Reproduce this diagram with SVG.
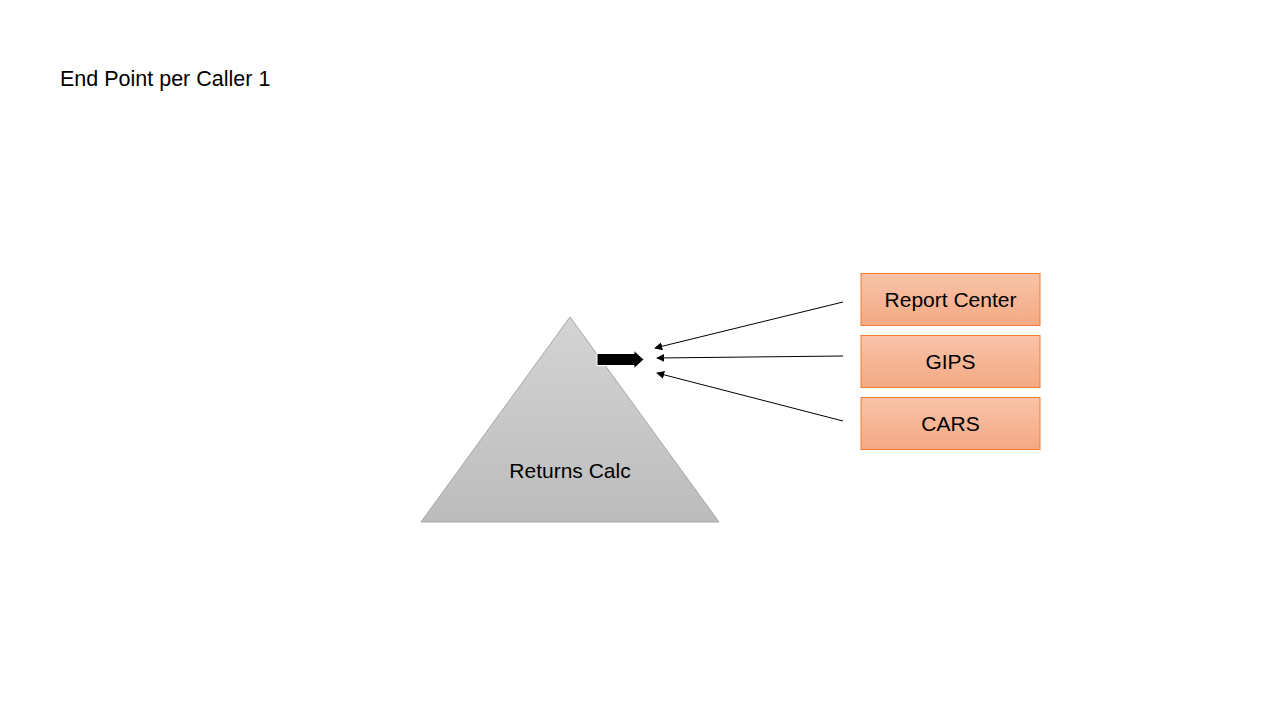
<svg xmlns="http://www.w3.org/2000/svg" width="1280" height="720" viewBox="0 0 1280 720">
<style>
  text { font-family: "Liberation Sans", Arial, sans-serif; fill: #000; }
  .lbl { font-size: 21px; text-anchor: middle; }
  .box { fill: url(#orange); stroke: #ed7d31; stroke-width: 1; }
  .conn { stroke: #000; stroke-width: 1; fill: none; marker-end: url(#ah); }
</style>
<defs>
  <linearGradient id="orange" x1="0" y1="0" x2="0" y2="1">
    <stop offset="0" stop-color="#f8c3a9"/>
    <stop offset="1" stop-color="#f4a983"/>
  </linearGradient>
  <linearGradient id="gray" x1="0" y1="0" x2="0" y2="1">
    <stop offset="0" stop-color="#d4d4d4"/>
    <stop offset="1" stop-color="#bcbcbc"/>
  </linearGradient>
  <marker id="ah" viewBox="0 0 10 10" refX="9" refY="5" markerWidth="8" markerHeight="8" markerUnits="userSpaceOnUse" orient="auto">
    <path d="M0,0 L10,5 L0,10 Z" fill="#000"/>
  </marker>
</defs>
<rect width="1280" height="720" fill="#fff"/>
<g id="title">
  <text x="60" y="86" font-size="21.5">End Point per Caller 1</text>
</g>
<g id="returns-calc">
  <polygon points="570,317 719,522 421,522" fill="url(#gray)" stroke="#a6a6a6" stroke-width="1"/>
  <text class="lbl" x="570" y="478">Returns Calc</text>
  <polygon points="597,353.5 634,353.5 634,350.5 644,359.5 634,368.5 634,365.5 597,365.5" fill="#000" stroke="#fff" stroke-width="1"/>
</g>
<g id="report-center">
  <rect class="box" x="861" y="273.5" width="179" height="52"/>
  <text class="lbl" x="950.5" y="307">Report Center</text>
</g>
<g id="gips">
  <rect class="box" x="861" y="335.5" width="179" height="52"/>
  <text class="lbl" x="950.5" y="369">GIPS</text>
</g>
<g id="cars">
  <rect class="box" x="861" y="397.5" width="179" height="52"/>
  <text class="lbl" x="950.5" y="431">CARS</text>
</g>
<g id="connectors">
  <line class="conn" x1="843" y1="302" x2="655" y2="348"/>
  <line class="conn" x1="843" y1="356" x2="657" y2="358"/>
  <line class="conn" x1="843" y1="421" x2="657" y2="373"/>
</g>
</svg>
